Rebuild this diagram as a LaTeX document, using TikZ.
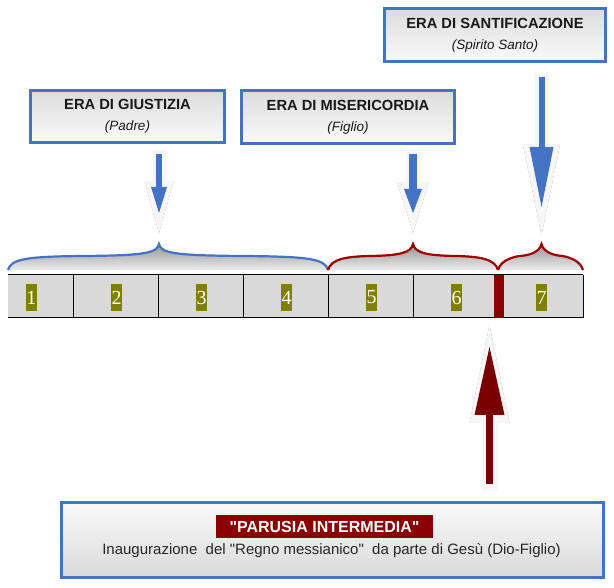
\documentclass[tikz,border=0pt]{standalone}
\usepackage{fontspec}
\setmainfont{Liberation Sans}[Ligatures=TeXOff]
\newfontfamily\numfont{Liberation Serif}
\usetikzlibrary{arrows.meta,positioning}
\definecolor{eraBlue}{HTML}{4472C4}
\definecolor{braceRed}{HTML}{9E0000}
\definecolor{darkRed}{HTML}{8B0000}
\definecolor{arrowRed}{HTML}{780000}
\definecolor{oliveBox}{HTML}{808000}
\definecolor{cellGray}{HTML}{D9D9D9}
\definecolor{haloEdge}{HTML}{8E9CB6}
\newcommand{\titlef}{\fontsize{14.7}{21}\selectfont\bfseries}
\newcommand{\subf}{\fontsize{13.5}{16}\selectfont\mdseries\itshape}

\tikzset{
  erabox/.style={draw=eraBlue, line width=3pt, top color=gray!28, bottom color=gray!4,
    align=center, inner sep=0pt, font=\titlef, text=black!90},
  basebox/.style={draw=eraBlue, line width=3pt, top color=gray!4, bottom color=gray!30, inner sep=0pt},
  numlab/.style={fill=oliveBox, text=white, font=\numfont\fontsize{20}{20}\selectfont,
    minimum width=11pt, minimum height=27pt, inner sep=0pt},
  bracecurve/.style n args={3}{insert path={(#1,270) .. controls ({#1+3},259) and ({#1+18},256.5) .. ({(#1+#2)/2},256)
    .. controls ({#2-14},255.5) and ({#2-2},253) .. (#2,244)
    .. controls ({#2+2},253) and ({#2+14},255.5) .. ({(#2+#3)/2},256)
    .. controls ({#3-18},256.5) and ({#3-3},259) .. (#3,270)}},
  haloshadow/.style n args={3}{draw=haloEdge, line width=#1, xshift=1.5pt, yshift=-1.5pt,
    -{Triangle[width=#2,length=#3,line width=0pt]}},
  halo/.style n args={3}{draw=gray!7, line width=#1, -{Triangle[width=#2,length=#3,line width=0pt]}},
  core/.style n args={4}{draw=#1, line width=#2, -{Triangle[width=#3,length=#4,line width=0pt]}}
}

\begin{document}
\begin{tikzpicture}[x=1pt,y=-1pt]
\useasboundingbox (0,0) rectangle (614,588);

% era boxes
\node[erabox, minimum width=194pt, minimum height=52pt] (giu) at (127.5,116.5)
  {ERA DI GIUSTIZIA\\{\subf (Padre)}};
\node[erabox, minimum width=213pt, minimum height=53pt] (mis) at (348,117)
  {ERA DI MISERICORDIA\\{\subf (Figlio)}};
\node[erabox, minimum width=221pt, minimum height=53.5pt] (san) at (495,35.25)
  {ERA DI SANTIFICAZIONE\\{\subf (Spirito Santo)}};

% braces over the ages
\foreach \a/\t/\b/\c [count=\i] in {8/159/328/eraBlue, 328/413/498/braceRed, 498/541.5/583/braceRed}{
  \path[top color=gray!85, bottom color=gray!15, bracecurve={\a}{\t}{\b}] -- cycle;
  \draw[\c, line width=2.2pt, bracecurve={\a}{\t}{\b}];
  \coordinate (t\i) at (\t,244);
}

% the seven ages
\fill[cellGray] (8,275) rectangle (583,318);
\draw[line width=1pt] (8,275) -- (583,275) (8,318) -- (583,318);
\foreach \x in {73,158,...,413}
  \draw[line width=0.9pt] (\x,275) -- (\x,318);
\draw[line width=1pt, draw=black!70!blue] (583,275) -- (583,318);
\node[fill=darkRed, minimum width=10pt, minimum height=43pt, inner sep=0pt] (mark) at (499,296.5) {};
\foreach \k in {1,...,7}
  \node[numlab] (n\k) at ({31.5+85*(\k-1)},297.5) {\k};

% arrows from the eras
\coordinate (a1) at (giu.south -| t1);
\coordinate (a2) at (mis.south -| t2);
\coordinate (a3) at (san.south -| t3);
\draw[haloshadow={13pt}{29pt}{51pt}] ([yshift=-6.5pt]a1) -- ([yshift=11pt]t1);
\draw[halo={13pt}{29pt}{51pt}] ([yshift=-6.5pt]a1) -- ([yshift=11pt]t1);
\draw[core={eraBlue}{6pt}{16pt}{26pt}] ([yshift=-10.5pt]a1) -- ([yshift=31pt]t1);
\draw[haloshadow={15pt}{31pt}{50pt}] ([yshift=-5.5pt]a2) -- ([yshift=11pt]t2);
\draw[halo={15pt}{31pt}{50pt}] ([yshift=-5.5pt]a2) -- ([yshift=11pt]t2);
\draw[core={eraBlue}{8pt}{18pt}{24pt}] ([yshift=-9.5pt]a2) -- ([yshift=31pt]t2);
\draw[haloshadow={14pt}{37pt}{90pt}] ([yshift=-10pt]a3) -- ([yshift=9pt]t3);
\draw[halo={14pt}{37pt}{90pt}] ([yshift=-10pt]a3) -- ([yshift=9pt]t3);
\draw[core={eraBlue}{6pt}{24pt}{60pt}] ([yshift=-14pt]a3) -- ([yshift=37pt]t3);

% parusia box and arrow
\node[basebox, minimum width=542pt, minimum height=75pt] (par) at (332.5,540) {};
\node[fill=darkRed, text=white, font=\fontsize{16}{16}\selectfont\bfseries,
  minimum width=217pt, minimum height=23pt, inner sep=0pt] (parlabel)
  at ([xshift=-8pt,yshift=13.5pt]par.center) {"PARUSIA INTERMEDIA"};
\node[font=\fontsize{15}{18}\selectfont, text=black!85, inner sep=0pt] (partext)
  at ([xshift=-1pt,yshift=-11pt]par.center)
  {Inaugurazione\ \ del "Regno messianico"\ \ da parte di Gesù (Dio-Figlio)};
\coordinate (rx) at (489.5,318);
\coordinate (r0) at (par.north -| rx);
\draw[haloshadow={16pt}{40pt}{98pt}] ([yshift=10.5pt]r0) -- ([yshift=-7pt]rx);
\draw[halo={16pt}{40pt}{98pt}] ([yshift=10.5pt]r0) -- ([yshift=-7pt]rx);
\draw[core={arrowRed}{7pt}{30pt}{68pt}] ([yshift=17.5pt]r0) -- ([yshift=-29pt]rx);
\end{tikzpicture}
\end{document}
